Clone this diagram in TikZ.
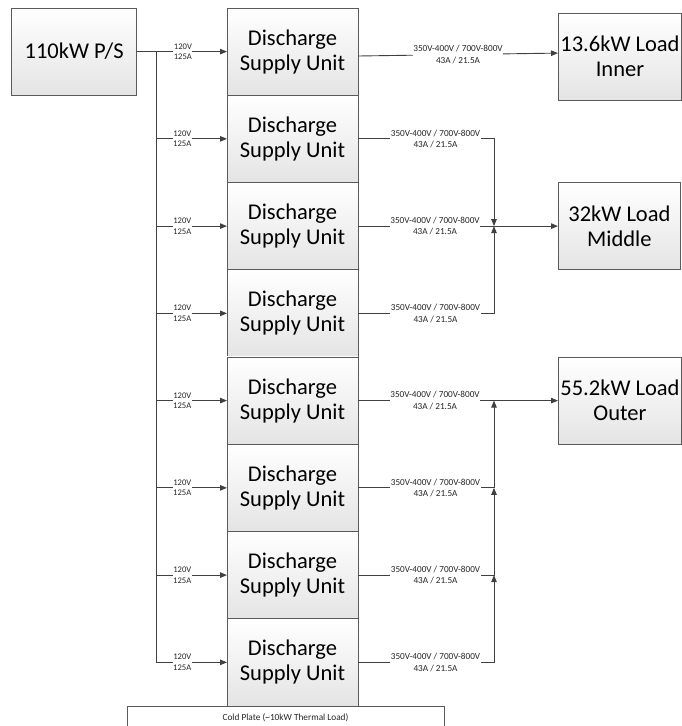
\documentclass[tikz,border=0pt]{standalone}
\usepackage{fontspec}
\setmainfont{Carlito}
\usepackage{tikz}
\usetikzlibrary{arrows.meta, positioning, calc}
\definecolor{dsLine}{HTML}{404040}
\definecolor{dsEdge}{HTML}{5A5A5A}
\definecolor{dsFillTop}{HTML}{FFFFFF}
\definecolor{dsFillBot}{HTML}{E4E4E4}
\definecolor{dsText}{HTML}{262626}

\begin{document}
\begin{tikzpicture}[
  x=1pt, y=-1pt,
  box/.style={draw=dsEdge, line width=0.8pt, top color=dsFillTop, bottom color=dsFillBot,
              align=center, text=black, font=\fontsize{22.5}{25}\selectfont, inner sep=2pt},
  unit/.style={box, minimum width=131pt, minimum height=87.25pt, outer sep=0pt},
  load/.style={box, minimum width=122pt, minimum height=87pt},
  plate/.style={draw=dsEdge, line width=0.8pt, fill=white, minimum width=317pt, minimum height=22pt,
                font=\fontsize{9.3}{10}\selectfont, text=dsText},
  inlbl/.style={fill=white, inner sep=0.4pt, align=center, text=dsText,
                font=\fontsize{8.6}{10.5}\selectfont},
  outlbl/.style={inlbl, font=\fontsize{9.2}{11.5}\selectfont},
  wire/.style={line width=0.9pt, color=dsLine},
  arr/.style={wire, -{Triangle[length=7pt,width=5.5pt]}}
]
\useasboundingbox (0,0) rectangle (682,726);

% discharge supply stack
\node[unit] (dsu1) at (292.5,51.6) {Discharge\\Supply Unit};
\node[unit, below=0pt of dsu1] (dsu2) {Discharge\\Supply Unit};
\node[unit, below=0pt of dsu2] (dsu3) {Discharge\\Supply Unit};
\node[unit, below=0pt of dsu3] (dsu4) {Discharge\\Supply Unit};
\node[unit, below=0pt of dsu4] (dsu5) {Discharge\\Supply Unit};
\node[unit, below=0pt of dsu5] (dsu6) {Discharge\\Supply Unit};
\node[unit, below=0pt of dsu6] (dsu7) {Discharge\\Supply Unit};
\node[unit, below=0pt of dsu7] (dsu8) {Discharge\\Supply Unit};

\node[plate, below=0.5pt of dsu8, xshift=-7pt] (cold) {Cold Plate (\textasciitilde10kW Thermal Load)};

\node[box, minimum width=125pt, minimum height=87pt, left=90pt of dsu1] (ps) {110kW P/S};

\node[load, right=200pt of dsu1, yshift=-5pt] (inner) {13.6kW Load\\Inner};
\node[load, right=200pt of dsu3] (middle) {32kW Load\\Middle};
\node[load, right=200pt of dsu5] (outer) {55.2kW Load\\Outer};

\coordinate[right=19pt of ps.east] (trunk);
\coordinate[right=136pt of dsu1.east] (jn);

% 120V feed
\draw[arr] (ps) -- node[inlbl, pos=0.51] {120V\\125A} (dsu1);
\draw[arr] (trunk) |- node[inlbl, pos=0.685] {120V\\125A} (dsu8.west);
\draw[arr] (trunk |- dsu2.west) -- node[inlbl, pos=0.37] {120V\\125A} (dsu2.west);
\draw[arr] (trunk |- dsu3.west) -- node[inlbl, pos=0.37] {120V\\125A} (dsu3.west);
\draw[arr] (trunk |- dsu4.west) -- node[inlbl, pos=0.37] {120V\\125A} (dsu4.west);
\draw[arr] (trunk |- dsu5.west) -- node[inlbl, pos=0.37] {120V\\125A} (dsu5.west);
\draw[arr] (trunk |- dsu6.west) -- node[inlbl, pos=0.37] {120V\\125A} (dsu6.west);
\draw[arr] (trunk |- dsu7.west) -- node[inlbl, pos=0.37] {120V\\125A} (dsu7.west);

% outputs to loads
\draw[arr] ([yshift=-4.4pt]dsu1.east) -- node[outlbl, pos=0.5] {350V-400V / 700V-800V\\43A / 21.5A} ([yshift=3.5pt]inner.west);

\draw[arr] (dsu3.east) -- node[outlbl, pos=0.385] {350V-400V / 700V-800V\\43A / 21.5A} (middle.west);
\draw[arr] (dsu2.east) -- node[outlbl, pos=0.57] {350V-400V / 700V-800V\\43A / 21.5A} (jn |- dsu2.east) -- (jn |- dsu3.east);
\draw[arr] (dsu4.east) -- node[outlbl, pos=0.57] {350V-400V / 700V-800V\\43A / 21.5A} (jn |- dsu4.east) -- (jn |- dsu3.east);

\draw[arr] (dsu5.east) -- node[outlbl, pos=0.385] {350V-400V / 700V-800V\\43A / 21.5A} (outer.west);
\draw[arr] (dsu6.east) -- node[outlbl, pos=0.57] {350V-400V / 700V-800V\\43A / 21.5A} (jn |- dsu6.east) -- (jn |- dsu5.east);
\draw[arr] (dsu7.east) -- node[outlbl, pos=0.57] {350V-400V / 700V-800V\\43A / 21.5A} (jn |- dsu7.east) -- (jn |- dsu6.east);
\draw[arr] (dsu8.east) -- node[outlbl, pos=0.57] {350V-400V / 700V-800V\\43A / 21.5A} (jn |- dsu8.east) -- (jn |- dsu7.east);
\end{tikzpicture}
\end{document}
